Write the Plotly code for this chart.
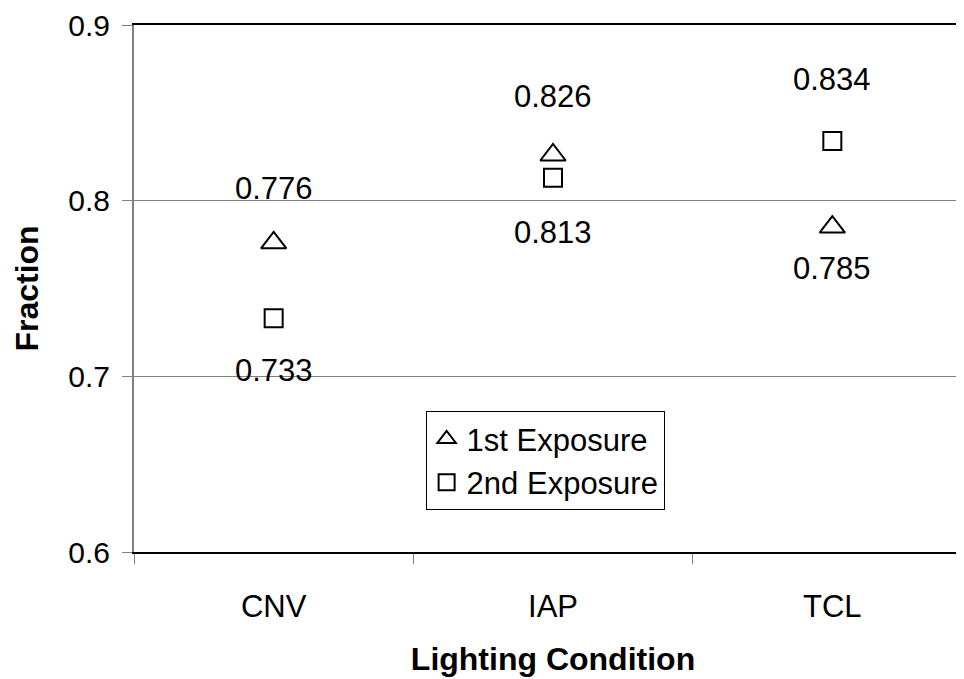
import plotly.graph_objects as go

categories = ["CNV", "IAP", "TCL"]
first_exposure = [0.776, 0.826, 0.785]
second_exposure = [0.733, 0.813, 0.834]
series_names = ["1st Exposure", "2nd Exposure"]

# label pixel offsets (styling)
first_label_shift = [54, 58, -41]
second_label_shift = [-52, -55, 61]

FONT = "Liberation Sans, Arial, sans-serif"
FS = 31
FSY = 30
FSB = 32

fig = go.Figure()
fig.add_trace(go.Scatter(
    x=categories, y=first_exposure, mode="markers", name=series_names[0],
    marker=dict(symbol="triangle-up-open", size=22, color="black", line=dict(width=2, color="black")),
))
fig.add_trace(go.Scatter(
    x=categories, y=second_exposure, mode="markers", name=series_names[1],
    marker=dict(symbol="square-open", size=18, color="black", line=dict(width=2, color="black")),
))

for c, v, s in zip(categories, first_exposure, first_label_shift):
    fig.add_annotation(x=c, y=v, text=f"{v:.3f}", showarrow=False, yshift=s,
                       font=dict(family=FONT, size=FS, color="black"))
for c, v, s in zip(categories, second_exposure, second_label_shift):
    fig.add_annotation(x=c, y=v, text=f"{v:.3f}", showarrow=False, yshift=s,
                       font=dict(family=FONT, size=FS, color="black"))

fig.update_layout(
    width=964, height=679,
    margin=dict(l=126, r=0, t=17, b=135),
    paper_bgcolor="white", plot_bgcolor="white",
    font=dict(family=FONT, size=FS, color="black"),
    showlegend=True,
    legend=dict(x=0.348, y=0.267, xanchor="left", yanchor="top",
                bordercolor="black", borderwidth=1, bgcolor="white",
                font=dict(family=FONT, size=FS, color="black"),
                itemwidth=30, tracegroupgap=0),
    xaxis=dict(
        type="category", range=[-0.5, 2.5], tickson="boundaries",
        ticks="outside", ticklen=10, tickcolor="#808080", tickwidth=1,
        showline=True, linecolor="black", linewidth=2, mirror=True,
        showgrid=False, zeroline=False, ticklabelstandoff=26,
        tickfont=dict(family=FONT, size=FS, color="black"),
        title=dict(text="<b>Lighting Condition</b>", font=dict(family=FONT, size=FSB, color="black"), standoff=24),
    ),
    yaxis=dict(
        range=[0.6, 0.9], dtick=0.1, tickformat=".1f",
        ticks="outside", ticklen=10, tickcolor="#808080", tickwidth=1,
        showline=True, linecolor="#808080", linewidth=2,
        showgrid=True, gridcolor="#808080", gridwidth=1, zeroline=False,
        ticklabelstandoff=6,
        tickfont=dict(family=FONT, size=FSY, color="black"),
        title=dict(text="<b>Fraction</b>", font=dict(family=FONT, size=FSB, color="black"), standoff=20),
    ),
)

fig.write_html("out.html")
